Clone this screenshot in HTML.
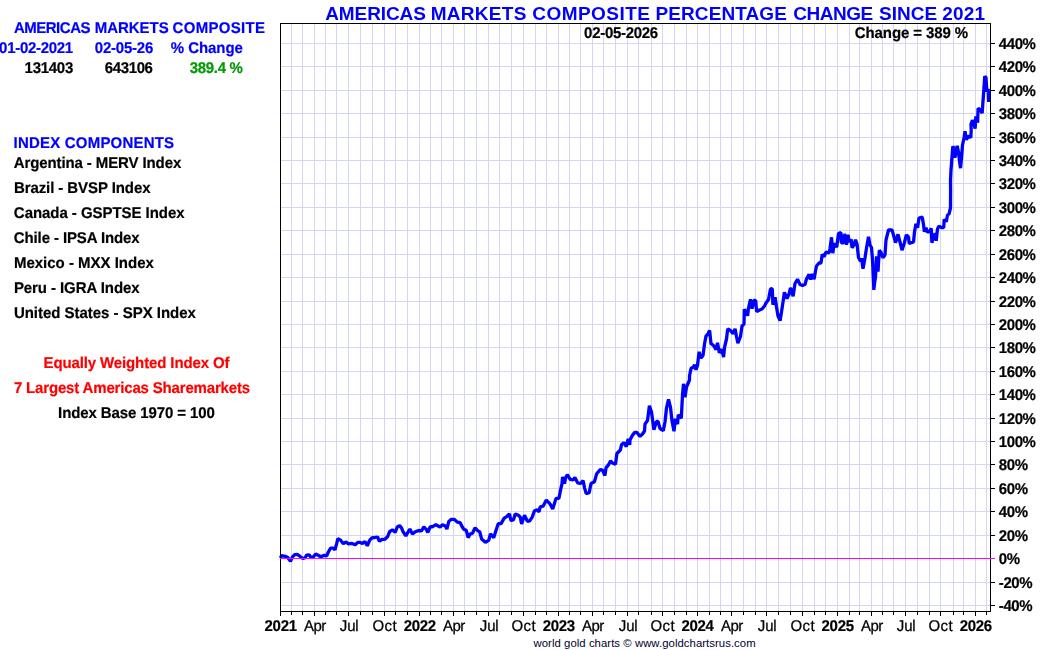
<!DOCTYPE html>
<html><head><meta charset="utf-8"><title>Americas Markets Composite</title>
<style>html,body{margin:0;padding:0;background:#fff;overflow:hidden}body{width:1050px;height:650px;position:relative}</style></head>
<body>
<svg width="1050" height="650" viewBox="0 0 1050 650" style="position:absolute;left:0;top:0;will-change:transform" font-family="Liberation Sans, sans-serif">
<rect x="0" y="0" width="1050" height="650" fill="#fff"/>
<g shape-rendering="crispEdges" stroke="#d5d5f5" stroke-width="1">
<line x1="280" x2="990" y1="605.5" y2="605.5"/>
<line x1="280" x2="990" y1="582.5" y2="582.5"/>
<line x1="280" x2="990" y1="558.5" y2="558.5"/>
<line x1="280" x2="990" y1="535.5" y2="535.5"/>
<line x1="280" x2="990" y1="511.5" y2="511.5"/>
<line x1="280" x2="990" y1="488.5" y2="488.5"/>
<line x1="280" x2="990" y1="464.5" y2="464.5"/>
<line x1="280" x2="990" y1="441.5" y2="441.5"/>
<line x1="280" x2="990" y1="418.5" y2="418.5"/>
<line x1="280" x2="990" y1="394.5" y2="394.5"/>
<line x1="280" x2="990" y1="371.5" y2="371.5"/>
<line x1="280" x2="990" y1="347.5" y2="347.5"/>
<line x1="280" x2="990" y1="324.5" y2="324.5"/>
<line x1="280" x2="990" y1="301.5" y2="301.5"/>
<line x1="280" x2="990" y1="277.5" y2="277.5"/>
<line x1="280" x2="990" y1="254.5" y2="254.5"/>
<line x1="280" x2="990" y1="230.5" y2="230.5"/>
<line x1="280" x2="990" y1="207.5" y2="207.5"/>
<line x1="280" x2="990" y1="183.5" y2="183.5"/>
<line x1="280" x2="990" y1="160.5" y2="160.5"/>
<line x1="280" x2="990" y1="137.5" y2="137.5"/>
<line x1="280" x2="990" y1="113.5" y2="113.5"/>
<line x1="280" x2="990" y1="90.5" y2="90.5"/>
<line x1="280" x2="990" y1="66.5" y2="66.5"/>
<line x1="280" x2="990" y1="43.5" y2="43.5"/>
<line y1="23" y2="611" x1="291.5" x2="291.5"/>
<line y1="23" y2="611" x1="302.5" x2="302.5"/>
<line y1="23" y2="611" x1="314.5" x2="314.5"/>
<line y1="23" y2="611" x1="325.5" x2="325.5"/>
<line y1="23" y2="611" x1="336.5" x2="336.5"/>
<line y1="23" y2="611" x1="348.5" x2="348.5"/>
<line y1="23" y2="611" x1="360.5" x2="360.5"/>
<line y1="23" y2="611" x1="372.5" x2="372.5"/>
<line y1="23" y2="611" x1="384.5" x2="384.5"/>
<line y1="23" y2="611" x1="395.5" x2="395.5"/>
<line y1="23" y2="611" x1="407.5" x2="407.5"/>
<line y1="23" y2="611" x1="419.5" x2="419.5"/>
<line y1="23" y2="611" x1="430.5" x2="430.5"/>
<line y1="23" y2="611" x1="441.5" x2="441.5"/>
<line y1="23" y2="611" x1="453.5" x2="453.5"/>
<line y1="23" y2="611" x1="464.5" x2="464.5"/>
<line y1="23" y2="611" x1="476.5" x2="476.5"/>
<line y1="23" y2="611" x1="488.5" x2="488.5"/>
<line y1="23" y2="611" x1="499.5" x2="499.5"/>
<line y1="23" y2="611" x1="511.5" x2="511.5"/>
<line y1="23" y2="611" x1="523.5" x2="523.5"/>
<line y1="23" y2="611" x1="535.5" x2="535.5"/>
<line y1="23" y2="611" x1="546.5" x2="546.5"/>
<line y1="23" y2="611" x1="558.5" x2="558.5"/>
<line y1="23" y2="611" x1="569.5" x2="569.5"/>
<line y1="23" y2="611" x1="580.5" x2="580.5"/>
<line y1="23" y2="611" x1="592.5" x2="592.5"/>
<line y1="23" y2="611" x1="603.5" x2="603.5"/>
<line y1="23" y2="611" x1="615.5" x2="615.5"/>
<line y1="23" y2="611" x1="627.5" x2="627.5"/>
<line y1="23" y2="611" x1="638.5" x2="638.5"/>
<line y1="23" y2="611" x1="651.5" x2="651.5"/>
<line y1="23" y2="611" x1="662.5" x2="662.5"/>
<line y1="23" y2="611" x1="674.5" x2="674.5"/>
<line y1="23" y2="611" x1="686.5" x2="686.5"/>
<line y1="23" y2="611" x1="697.5" x2="697.5"/>
<line y1="23" y2="611" x1="709.5" x2="709.5"/>
<line y1="23" y2="611" x1="720.5" x2="720.5"/>
<line y1="23" y2="611" x1="731.5" x2="731.5"/>
<line y1="23" y2="611" x1="743.5" x2="743.5"/>
<line y1="23" y2="611" x1="755.5" x2="755.5"/>
<line y1="23" y2="611" x1="766.5" x2="766.5"/>
<line y1="23" y2="611" x1="778.5" x2="778.5"/>
<line y1="23" y2="611" x1="790.5" x2="790.5"/>
<line y1="23" y2="611" x1="802.5" x2="802.5"/>
<line y1="23" y2="611" x1="814.5" x2="814.5"/>
<line y1="23" y2="611" x1="825.5" x2="825.5"/>
<line y1="23" y2="611" x1="837.5" x2="837.5"/>
<line y1="23" y2="611" x1="849.5" x2="849.5"/>
<line y1="23" y2="611" x1="859.5" x2="859.5"/>
<line y1="23" y2="611" x1="871.5" x2="871.5"/>
<line y1="23" y2="611" x1="882.5" x2="882.5"/>
<line y1="23" y2="611" x1="893.5" x2="893.5"/>
<line y1="23" y2="611" x1="905.5" x2="905.5"/>
<line y1="23" y2="611" x1="917.5" x2="917.5"/>
<line y1="23" y2="611" x1="929.5" x2="929.5"/>
<line y1="23" y2="611" x1="940.5" x2="940.5"/>
<line y1="23" y2="611" x1="953.5" x2="953.5"/>
<line y1="23" y2="611" x1="963.5" x2="963.5"/>
<line y1="23" y2="611" x1="975.5" x2="975.5"/>
<line y1="23" y2="611" x1="986.5" x2="986.5"/>
</g>
<polyline fill="none" stroke="#0000ff" stroke-width="3.3" stroke-linejoin="bevel" stroke-linecap="butt" points="280.4,557.9 281.6,555.6 285.2,556.3 287.5,557.2 290.5,561.3 292.3,557.2 294.7,554.7 297.6,554.4 299.9,556.3 302.8,558.5 305.2,557.7 306.6,555.1 309.0,554.8 311.4,557.7 313.3,556.8 315.7,554.1 318.1,555.3 320.9,556.8 324.3,555.3 326.7,555.8 328.1,552.5 330.5,548.2 333.3,548.2 335.0,549.8 336.7,543.4 337.9,538.6 340.5,540.1 343.3,543.7 345.7,542.0 348.6,543.9 352.0,543.4 355.3,544.8 357.7,542.4 360.1,542.4 362.4,543.4 364.9,541.6 367.3,545.8 369.1,541.5 370.0,539.8 371.9,537.9 374.8,537.5 377.6,537.0 379.4,541.3 381.9,539.4 384.8,539.4 387.7,536.5 389.6,531.7 392.4,529.8 395.2,532.4 397.2,527.0 399.6,525.7 401.5,527.9 402.9,531.3 405.8,535.8 407.7,532.7 409.9,529.1 412.4,534.1 415.3,531.7 418.7,530.5 421.5,530.8 423.8,526.9 426.3,529.4 427.8,532.4 430.1,527.0 433.0,526.5 435.8,524.6 438.2,526.0 440.1,527.0 442.5,524.8 445.4,526.0 446.9,529.1 448.7,521.7 451.1,519.3 454.4,519.3 457.3,522.2 460.2,522.7 462.0,526.5 463.9,529.4 466.3,530.3 468.1,537.7 470.1,534.1 472.5,533.2 475.1,527.7 477.3,530.3 479.7,531.8 481.6,538.9 485.4,542.3 488.7,540.3 490.4,533.9 493.7,537.7 495.9,530.8 498.3,523.6 501.1,523.6 504.0,518.4 506.8,516.5 509.4,513.9 511.0,520.6 513.5,519.8 515.2,514.0 518.3,515.3 520.2,517.0 521.6,523.9 524.5,515.3 527.4,521.3 529.7,520.8 532.1,517.4 534.5,510.8 537.4,509.8 539.0,511.9 540.2,506.8 543.1,506.2 546.3,500.1 549.8,503.6 552.7,509.1 556.0,498.4 558.9,498.4 560.8,488.8 561.7,485.0 561.9,484.6 562.6,477.0 564.5,483.6 565.6,477.7 567.3,474.7 570.2,479.4 573.1,480.0 574.9,477.6 577.7,482.9 580.6,483.5 583.1,480.5 584.6,488.1 586.2,493.6 589.2,492.7 591.0,483.5 594.4,481.7 596.7,473.7 600.2,469.6 602.5,470.2 604.9,475.5 606.0,467.9 608.8,464.4 610.5,460.9 612.9,463.3 615.5,464.3 616.9,453.5 620.4,450.0 621.5,444.8 623.9,442.6 626.3,446.6 628.2,438.9 629.7,444.9 630.0,440.0 632.0,436.0 634.5,432.5 637.0,432.5 640.0,436.4 642.5,434.0 644.5,431.0 645.0,424.0 647.5,420.5 649.4,405.8 651.5,412.0 653.9,429.7 656.5,421.5 658.0,421.5 660.0,428.5 663.3,430.6 665.0,422.0 666.5,408.0 668.5,399.3 670.5,407.5 672.0,421.0 674.0,431.2 675.4,418.8 677.6,424.2 678.2,414.9 681.3,418.1 682.5,395.0 683.5,383.8 685.0,397.2 686.5,387.0 689.5,380.0 689.5,376.0 691.0,368.5 693.5,367.0 694.6,364.8 696.0,369.7 697.5,365.5 699.1,351.8 700.8,358.2 703.0,355.5 704.5,344.0 706.0,336.0 708.0,334.0 709.6,330.3 711.0,343.5 713.5,345.5 716.1,349.7 717.5,342.8 719.3,352.7 721.7,349.3 723.6,357.2 724.5,347.5 726.5,339.0 727.7,328.9 730.5,330.5 733.1,333.7 735.1,328.8 736.5,336.5 737.9,343.2 740.5,336.5 742.0,326.0 744.0,324.0 744.3,309.3 746.0,312.0 747.6,315.7 748.5,308.0 750.5,299.3 752.0,308.7 754.0,300.5 755.7,300.3 756.6,311.6 759.5,310.0 762.0,309.0 764.5,306.0 766.0,303.0 768.5,299.5 770.5,289.0 772.3,288.7 772.9,304.7 775.1,297.3 776.5,307.0 778.0,316.0 780.1,320.7 781.5,312.0 783.0,302.0 784.4,292.3 787.0,298.7 789.0,294.0 790.5,287.8 793.1,296.2 795.0,283.5 797.5,279.3 800.0,284.5 802.5,285.5 805.0,284.5 806.5,279.0 809.1,274.3 810.5,279.7 812.0,273.8 814.1,279.2 815.5,271.0 816.5,266.0 819.0,263.0 821.0,263.0 822.2,254.4 824.2,256.6 826.0,252.0 829.2,252.8 830.0,248.5 831.5,237.3 832.8,253.2 834.3,243.3 836.7,247.2 838.5,233.5 840.9,232.5 841.3,242.8 843.7,242.8 844.5,233.8 846.5,244.7 848.0,234.8 849.3,242.2 851.2,239.3 852.0,247.7 854.0,245.0 855.5,239.8 857.0,244.0 858.5,257.5 860.5,261.2 861.6,258.3 863.0,268.7 865.0,258.0 866.5,248.0 868.5,236.8 870.0,245.0 871.5,247.5 872.5,260.0 873.5,281.7 873.5,279.3 873.8,289.9 874.6,283.1 875.5,277.0 876.5,256.3 878.0,271.7 879.3,250.3 881.0,252.5 882.9,257.7 885.0,255.0 886.0,240.0 888.5,230.0 892.0,230.0 893.5,235.0 895.5,242.7 898.0,234.3 899.5,240.0 902.0,250.2 904.5,242.5 906.3,234.8 908.5,237.0 909.2,243.5 913.5,242.0 914.5,232.0 915.9,223.8 917.6,227.7 919.0,218.0 922.2,217.1 923.5,224.5 924.4,231.7 926.0,227.8 927.4,232.3 929.5,231.5 931.2,228.3 931.9,242.7 933.5,237.0 935.1,233.3 936.2,240.7 937.5,229.0 938.9,226.2 941.5,227.5 943.7,227.7 944.2,219.4 946.3,221.7 947.5,215.0 949.0,214.0 950.5,208.0 950.6,190.0 950.5,180.0 951.0,170.0 951.8,160.0 952.8,146.3 954.5,149.0 954.9,157.7 956.5,150.0 957.2,145.8 958.5,152.0 959.5,161.0 960.5,168.2 961.5,158.0 962.5,145.0 964.0,138.0 965.0,131.3 966.4,139.7 968.4,135.7 970.8,137.6 971.2,130.0 971.0,124.0 972.4,120.3 973.5,122.0 975.1,128.7 975.9,116.3 977.6,122.7 978.1,108.4 980.0,109.5 982.2,113.2 983.0,101.0 984.0,88.0 984.7,76.4 986.0,77.5 986.8,91.7 988.2,88.8 988.7,102.0"/>
<g shape-rendering="crispEdges" stroke="#000" stroke-width="1" fill="none">
<rect x="280.5" y="23.5" width="710" height="588"/>
<line x1="991" x2="995" y1="605.5" y2="605.5"/>
<line x1="991" x2="995" y1="582.5" y2="582.5"/>
<line x1="991" x2="995" y1="535.5" y2="535.5"/>
<line x1="991" x2="995" y1="511.5" y2="511.5"/>
<line x1="991" x2="995" y1="488.5" y2="488.5"/>
<line x1="991" x2="995" y1="464.5" y2="464.5"/>
<line x1="991" x2="995" y1="441.5" y2="441.5"/>
<line x1="991" x2="995" y1="418.5" y2="418.5"/>
<line x1="991" x2="995" y1="394.5" y2="394.5"/>
<line x1="991" x2="995" y1="371.5" y2="371.5"/>
<line x1="991" x2="995" y1="347.5" y2="347.5"/>
<line x1="991" x2="995" y1="324.5" y2="324.5"/>
<line x1="991" x2="995" y1="301.5" y2="301.5"/>
<line x1="991" x2="995" y1="277.5" y2="277.5"/>
<line x1="991" x2="995" y1="254.5" y2="254.5"/>
<line x1="991" x2="995" y1="230.5" y2="230.5"/>
<line x1="991" x2="995" y1="207.5" y2="207.5"/>
<line x1="991" x2="995" y1="183.5" y2="183.5"/>
<line x1="991" x2="995" y1="160.5" y2="160.5"/>
<line x1="991" x2="995" y1="137.5" y2="137.5"/>
<line x1="991" x2="995" y1="113.5" y2="113.5"/>
<line x1="991" x2="995" y1="90.5" y2="90.5"/>
<line x1="991" x2="995" y1="66.5" y2="66.5"/>
<line x1="991" x2="995" y1="43.5" y2="43.5"/>
<line y1="612" y2="616" x1="280.5" x2="280.5"/>
<line y1="612" y2="615" x1="291.5" x2="291.5"/>
<line y1="612" y2="615" x1="302.5" x2="302.5"/>
<line y1="612" y2="616" x1="314.5" x2="314.5"/>
<line y1="612" y2="615" x1="325.5" x2="325.5"/>
<line y1="612" y2="615" x1="336.5" x2="336.5"/>
<line y1="612" y2="616" x1="348.5" x2="348.5"/>
<line y1="612" y2="615" x1="360.5" x2="360.5"/>
<line y1="612" y2="615" x1="372.5" x2="372.5"/>
<line y1="612" y2="616" x1="384.5" x2="384.5"/>
<line y1="612" y2="615" x1="395.5" x2="395.5"/>
<line y1="612" y2="615" x1="407.5" x2="407.5"/>
<line y1="612" y2="616" x1="419.5" x2="419.5"/>
<line y1="612" y2="615" x1="430.5" x2="430.5"/>
<line y1="612" y2="615" x1="441.5" x2="441.5"/>
<line y1="612" y2="616" x1="453.5" x2="453.5"/>
<line y1="612" y2="615" x1="464.5" x2="464.5"/>
<line y1="612" y2="615" x1="476.5" x2="476.5"/>
<line y1="612" y2="616" x1="488.5" x2="488.5"/>
<line y1="612" y2="615" x1="499.5" x2="499.5"/>
<line y1="612" y2="615" x1="511.5" x2="511.5"/>
<line y1="612" y2="616" x1="523.5" x2="523.5"/>
<line y1="612" y2="615" x1="535.5" x2="535.5"/>
<line y1="612" y2="615" x1="546.5" x2="546.5"/>
<line y1="612" y2="616" x1="558.5" x2="558.5"/>
<line y1="612" y2="615" x1="569.5" x2="569.5"/>
<line y1="612" y2="615" x1="580.5" x2="580.5"/>
<line y1="612" y2="616" x1="592.5" x2="592.5"/>
<line y1="612" y2="615" x1="603.5" x2="603.5"/>
<line y1="612" y2="615" x1="615.5" x2="615.5"/>
<line y1="612" y2="616" x1="627.5" x2="627.5"/>
<line y1="612" y2="615" x1="638.5" x2="638.5"/>
<line y1="612" y2="615" x1="651.5" x2="651.5"/>
<line y1="612" y2="616" x1="662.5" x2="662.5"/>
<line y1="612" y2="615" x1="674.5" x2="674.5"/>
<line y1="612" y2="615" x1="686.5" x2="686.5"/>
<line y1="612" y2="616" x1="697.5" x2="697.5"/>
<line y1="612" y2="615" x1="709.5" x2="709.5"/>
<line y1="612" y2="615" x1="720.5" x2="720.5"/>
<line y1="612" y2="616" x1="731.5" x2="731.5"/>
<line y1="612" y2="615" x1="743.5" x2="743.5"/>
<line y1="612" y2="615" x1="755.5" x2="755.5"/>
<line y1="612" y2="616" x1="766.5" x2="766.5"/>
<line y1="612" y2="615" x1="778.5" x2="778.5"/>
<line y1="612" y2="615" x1="790.5" x2="790.5"/>
<line y1="612" y2="616" x1="802.5" x2="802.5"/>
<line y1="612" y2="615" x1="814.5" x2="814.5"/>
<line y1="612" y2="615" x1="825.5" x2="825.5"/>
<line y1="612" y2="616" x1="837.5" x2="837.5"/>
<line y1="612" y2="615" x1="849.5" x2="849.5"/>
<line y1="612" y2="615" x1="859.5" x2="859.5"/>
<line y1="612" y2="616" x1="871.5" x2="871.5"/>
<line y1="612" y2="615" x1="882.5" x2="882.5"/>
<line y1="612" y2="615" x1="893.5" x2="893.5"/>
<line y1="612" y2="616" x1="905.5" x2="905.5"/>
<line y1="612" y2="615" x1="917.5" x2="917.5"/>
<line y1="612" y2="615" x1="929.5" x2="929.5"/>
<line y1="612" y2="616" x1="940.5" x2="940.5"/>
<line y1="612" y2="615" x1="953.5" x2="953.5"/>
<line y1="612" y2="615" x1="963.5" x2="963.5"/>
<line y1="612" y2="616" x1="975.5" x2="975.5"/>
<line y1="612" y2="615" x1="986.5" x2="986.5"/>
</g>
<g shape-rendering="crispEdges"><line x1="280" x2="995" y1="558.5" y2="558.5" stroke="#ff00ff" stroke-width="1"/></g>
<text stroke="#0000ff" stroke-width="0.2" x="-0.90" y="53.0" font-size="15" font-weight="bold" fill="#0000ff" letter-spacing="-0.294" text-rendering="geometricPrecision" transform="matrix(1 0 0 1.0388 0 -2.054)">01-02-2021</text>
<text stroke="#0000ff" stroke-width="0.2" x="94.80" y="53.0" font-size="15" font-weight="bold" fill="#0000ff" letter-spacing="-0.229" text-rendering="geometricPrecision" transform="matrix(1 0 0 1.0388 0 -2.054)">02-05-26</text>
<text stroke="#0000ff" stroke-width="0.2" x="170.80" y="53.0" font-size="15" font-weight="bold" fill="#0000ff" letter-spacing="-0.057" text-rendering="geometricPrecision" transform="matrix(1 0 0 1.0388 0 -2.054)">% Change</text>
<text stroke="#000" stroke-width="0.2" x="24.60" y="73.0" font-size="15" font-weight="bold" fill="#000" letter-spacing="-0.280" text-rendering="geometricPrecision" transform="matrix(1 0 0 1.0388 0 -2.829)">131403</text>
<text stroke="#000" stroke-width="0.2" x="104.80" y="73.0" font-size="15" font-weight="bold" fill="#000" letter-spacing="-0.380" text-rendering="geometricPrecision" transform="matrix(1 0 0 1.0388 0 -2.829)">643106</text>
<text stroke="#009900" stroke-width="0.2" x="189.80" y="73.0" font-size="15" font-weight="bold" fill="#009900" letter-spacing="-0.317" text-rendering="geometricPrecision" transform="matrix(1 0 0 1.0388 0 -2.829)">389.4 %</text>
<text stroke="#0000ff" stroke-width="0.2" x="13.60" y="148.0" font-size="15" font-weight="bold" fill="#0000ff" letter-spacing="0.200" text-rendering="geometricPrecision" transform="matrix(1 0 0 1.0388 0 -5.736)">INDEX COMPONENTS</text>
<text stroke="#000" stroke-width="0.2" x="13.80" y="168.0" font-size="15" font-weight="bold" fill="#000" letter-spacing="-0.110" text-rendering="geometricPrecision" transform="matrix(1 0 0 1.0388 0 -6.512)">Argentina - MERV Index</text>
<text stroke="#000" stroke-width="0.2" x="13.90" y="193.0" font-size="15" font-weight="bold" fill="#000" letter-spacing="-0.083" text-rendering="geometricPrecision" transform="matrix(1 0 0 1.0388 0 -7.481)">Brazil - BVSP Index</text>
<text stroke="#000" stroke-width="0.2" x="13.85" y="218.0" font-size="15" font-weight="bold" fill="#000" letter-spacing="-0.047" text-rendering="geometricPrecision" transform="matrix(1 0 0 1.0388 0 -8.450)">Canada - GSPTSE Index</text>
<text stroke="#000" stroke-width="0.2" x="13.75" y="243.0" font-size="15" font-weight="bold" fill="#000" letter-spacing="-0.109" text-rendering="geometricPrecision" transform="matrix(1 0 0 1.0388 0 -9.419)">Chile - IPSA Index</text>
<text stroke="#000" stroke-width="0.2" x="13.90" y="268.0" font-size="15" font-weight="bold" fill="#000" letter-spacing="-0.003" text-rendering="geometricPrecision" transform="matrix(1 0 0 1.0388 0 -10.388)">Mexico - MXX Index</text>
<text stroke="#000" stroke-width="0.2" x="13.90" y="293.0" font-size="15" font-weight="bold" fill="#000" letter-spacing="-0.078" text-rendering="geometricPrecision" transform="matrix(1 0 0 1.0388 0 -11.357)">Peru - IGRA Index</text>
<text stroke="#000" stroke-width="0.2" x="13.90" y="318.0" font-size="15" font-weight="bold" fill="#000" letter-spacing="-0.023" text-rendering="geometricPrecision" transform="matrix(1 0 0 1.0388 0 -12.326)">United States - SPX Index</text>
<text stroke="#ff0000" stroke-width="0.2" x="43.50" y="368.0" font-size="15" font-weight="bold" fill="#ff0000" letter-spacing="-0.121" text-rendering="geometricPrecision" transform="matrix(1 0 0 1.0388 0 -14.264)">Equally Weighted Index Of</text>
<text stroke="#ff0000" stroke-width="0.2" x="13.95" y="393.0" font-size="15" font-weight="bold" fill="#ff0000" letter-spacing="-0.168" text-rendering="geometricPrecision" transform="matrix(1 0 0 1.0388 0 -15.233)">7 Largest Americas Sharemarkets</text>
<text stroke="#000" stroke-width="0.2" x="58.10" y="418.0" font-size="15" font-weight="bold" fill="#000" letter-spacing="-0.108" text-rendering="geometricPrecision" transform="matrix(1 0 0 1.0388 0 -16.202)">Index Base 1970 = 100</text>
<text stroke="#000" stroke-width="0.2" x="584.10" y="38.0" font-size="15" font-weight="bold" fill="#000" letter-spacing="-0.294" text-rendering="geometricPrecision" transform="matrix(1 0 0 1.0388 0 -1.473)">02-05-2026</text>
<text stroke="#000" stroke-width="0.2" x="854.85" y="38.0" font-size="15" font-weight="bold" fill="#000" letter-spacing="-0.108" text-rendering="geometricPrecision" transform="matrix(1 0 0 1.0388 0 -1.473)">Change = 389 %</text>
<text stroke="#0000ff" stroke-width="0.2" y="33.0" font-size="15" font-weight="bold" fill="#0000ff" text-rendering="geometricPrecision" transform="matrix(1 0 0 1.0388 0 -1.279)"><tspan x="13.90" letter-spacing="-0.486">AMERICAS</tspan> <tspan x="94.70" letter-spacing="-0.033">MARKETS</tspan> <tspan x="172.55" letter-spacing="0.294">COMPOSITE</tspan></text>
<text y="20.0" font-size="19" font-weight="bold" fill="#0000ff"><tspan x="325.20" letter-spacing="-0.086">AMERICAS</tspan> <tspan x="430.75" letter-spacing="0.283">MARKETS</tspan> <tspan x="532.25" letter-spacing="0.450">COMPOSITE</tspan> <tspan x="655.45" letter-spacing="0.100">PERCENTAGE</tspan> <tspan x="793.15" letter-spacing="-0.470">CHANGE</tspan> <tspan x="879.05" letter-spacing="0.000">SINCE</tspan> <tspan x="942.35" letter-spacing="0.167">2021</tspan></text>
<text stroke="#000" stroke-width="0.2" x="998.85" y="611" font-size="15" font-weight="bold" fill="#000" letter-spacing="-0.417" text-rendering="geometricPrecision" transform="matrix(1 0 0 1.0388 0 -23.682)">-40%</text>
<text stroke="#000" stroke-width="0.2" x="998.85" y="588" font-size="15" font-weight="bold" fill="#000" letter-spacing="-0.417" text-rendering="geometricPrecision" transform="matrix(1 0 0 1.0388 0 -22.791)">-20%</text>
<text stroke="#000" stroke-width="0.2" x="998.85" y="564" font-size="15" font-weight="bold" fill="#000" letter-spacing="-0.417" text-rendering="geometricPrecision" transform="matrix(1 0 0 1.0388 0 -21.860)">0%</text>
<text stroke="#000" stroke-width="0.2" x="998.85" y="541" font-size="15" font-weight="bold" fill="#000" letter-spacing="-0.417" text-rendering="geometricPrecision" transform="matrix(1 0 0 1.0388 0 -20.969)">20%</text>
<text stroke="#000" stroke-width="0.2" x="998.85" y="517" font-size="15" font-weight="bold" fill="#000" letter-spacing="-0.417" text-rendering="geometricPrecision" transform="matrix(1 0 0 1.0388 0 -20.039)">40%</text>
<text stroke="#000" stroke-width="0.2" x="998.85" y="494" font-size="15" font-weight="bold" fill="#000" letter-spacing="-0.417" text-rendering="geometricPrecision" transform="matrix(1 0 0 1.0388 0 -19.147)">60%</text>
<text stroke="#000" stroke-width="0.2" x="998.85" y="470" font-size="15" font-weight="bold" fill="#000" letter-spacing="-0.417" text-rendering="geometricPrecision" transform="matrix(1 0 0 1.0388 0 -18.217)">80%</text>
<text stroke="#000" stroke-width="0.2" x="998.85" y="447" font-size="15" font-weight="bold" fill="#000" letter-spacing="-0.417" text-rendering="geometricPrecision" transform="matrix(1 0 0 1.0388 0 -17.326)">100%</text>
<text stroke="#000" stroke-width="0.2" x="998.85" y="424" font-size="15" font-weight="bold" fill="#000" letter-spacing="-0.417" text-rendering="geometricPrecision" transform="matrix(1 0 0 1.0388 0 -16.434)">120%</text>
<text stroke="#000" stroke-width="0.2" x="998.85" y="400" font-size="15" font-weight="bold" fill="#000" letter-spacing="-0.417" text-rendering="geometricPrecision" transform="matrix(1 0 0 1.0388 0 -15.504)">140%</text>
<text stroke="#000" stroke-width="0.2" x="998.85" y="377" font-size="15" font-weight="bold" fill="#000" letter-spacing="-0.417" text-rendering="geometricPrecision" transform="matrix(1 0 0 1.0388 0 -14.612)">160%</text>
<text stroke="#000" stroke-width="0.2" x="998.85" y="353" font-size="15" font-weight="bold" fill="#000" letter-spacing="-0.417" text-rendering="geometricPrecision" transform="matrix(1 0 0 1.0388 0 -13.682)">180%</text>
<text stroke="#000" stroke-width="0.2" x="998.85" y="330" font-size="15" font-weight="bold" fill="#000" letter-spacing="-0.417" text-rendering="geometricPrecision" transform="matrix(1 0 0 1.0388 0 -12.791)">200%</text>
<text stroke="#000" stroke-width="0.2" x="998.85" y="307" font-size="15" font-weight="bold" fill="#000" letter-spacing="-0.417" text-rendering="geometricPrecision" transform="matrix(1 0 0 1.0388 0 -11.899)">220%</text>
<text stroke="#000" stroke-width="0.2" x="998.85" y="283" font-size="15" font-weight="bold" fill="#000" letter-spacing="-0.417" text-rendering="geometricPrecision" transform="matrix(1 0 0 1.0388 0 -10.969)">240%</text>
<text stroke="#000" stroke-width="0.2" x="998.85" y="260" font-size="15" font-weight="bold" fill="#000" letter-spacing="-0.417" text-rendering="geometricPrecision" transform="matrix(1 0 0 1.0388 0 -10.078)">260%</text>
<text stroke="#000" stroke-width="0.2" x="998.85" y="236" font-size="15" font-weight="bold" fill="#000" letter-spacing="-0.417" text-rendering="geometricPrecision" transform="matrix(1 0 0 1.0388 0 -9.147)">280%</text>
<text stroke="#000" stroke-width="0.2" x="998.85" y="213" font-size="15" font-weight="bold" fill="#000" letter-spacing="-0.417" text-rendering="geometricPrecision" transform="matrix(1 0 0 1.0388 0 -8.256)">300%</text>
<text stroke="#000" stroke-width="0.2" x="998.85" y="189" font-size="15" font-weight="bold" fill="#000" letter-spacing="-0.417" text-rendering="geometricPrecision" transform="matrix(1 0 0 1.0388 0 -7.326)">320%</text>
<text stroke="#000" stroke-width="0.2" x="998.85" y="166" font-size="15" font-weight="bold" fill="#000" letter-spacing="-0.417" text-rendering="geometricPrecision" transform="matrix(1 0 0 1.0388 0 -6.434)">340%</text>
<text stroke="#000" stroke-width="0.2" x="998.85" y="143" font-size="15" font-weight="bold" fill="#000" letter-spacing="-0.417" text-rendering="geometricPrecision" transform="matrix(1 0 0 1.0388 0 -5.543)">360%</text>
<text stroke="#000" stroke-width="0.2" x="998.85" y="119" font-size="15" font-weight="bold" fill="#000" letter-spacing="-0.417" text-rendering="geometricPrecision" transform="matrix(1 0 0 1.0388 0 -4.612)">380%</text>
<text stroke="#000" stroke-width="0.2" x="998.85" y="96" font-size="15" font-weight="bold" fill="#000" letter-spacing="-0.417" text-rendering="geometricPrecision" transform="matrix(1 0 0 1.0388 0 -3.721)">400%</text>
<text stroke="#000" stroke-width="0.2" x="998.85" y="72" font-size="15" font-weight="bold" fill="#000" letter-spacing="-0.417" text-rendering="geometricPrecision" transform="matrix(1 0 0 1.0388 0 -2.791)">420%</text>
<text stroke="#000" stroke-width="0.2" x="998.85" y="49" font-size="15" font-weight="bold" fill="#000" letter-spacing="-0.417" text-rendering="geometricPrecision" transform="matrix(1 0 0 1.0388 0 -1.899)">440%</text>
<text stroke="#000" stroke-width="0.2" x="264.57" y="631" font-size="15" font-weight="bold" fill="#000" letter-spacing="-0.283" text-rendering="geometricPrecision" transform="matrix(1 0 0 1.0388 0 -24.457)">2021</text>
<text x="303.90" y="631" font-size="15" fill="#000" stroke="#000" stroke-width="0.25" letter-spacing="-0.500" text-rendering="geometricPrecision" transform="matrix(1 0 0 1.0388 0 -24.457)">Apr</text>
<text x="339.80" y="631" font-size="15" fill="#000" stroke="#000" stroke-width="0.25" letter-spacing="-0.150" text-rendering="geometricPrecision" transform="matrix(1 0 0 1.0388 0 -24.457)">Jul</text>
<text x="372.55" y="631" font-size="15" fill="#000" stroke="#000" stroke-width="0.25" letter-spacing="0.350" text-rendering="geometricPrecision" transform="matrix(1 0 0 1.0388 0 -24.457)">Oct</text>
<text stroke="#000" stroke-width="0.2" x="403.70" y="631" font-size="15" font-weight="bold" fill="#000" letter-spacing="-0.283" text-rendering="geometricPrecision" transform="matrix(1 0 0 1.0388 0 -24.457)">2022</text>
<text x="442.90" y="631" font-size="15" fill="#000" stroke="#000" stroke-width="0.25" letter-spacing="-0.500" text-rendering="geometricPrecision" transform="matrix(1 0 0 1.0388 0 -24.457)">Apr</text>
<text x="479.80" y="631" font-size="15" fill="#000" stroke="#000" stroke-width="0.25" letter-spacing="-0.150" text-rendering="geometricPrecision" transform="matrix(1 0 0 1.0388 0 -24.457)">Jul</text>
<text x="511.55" y="631" font-size="15" fill="#000" stroke="#000" stroke-width="0.25" letter-spacing="0.350" text-rendering="geometricPrecision" transform="matrix(1 0 0 1.0388 0 -24.457)">Oct</text>
<text stroke="#000" stroke-width="0.2" x="542.70" y="631" font-size="15" font-weight="bold" fill="#000" letter-spacing="-0.283" text-rendering="geometricPrecision" transform="matrix(1 0 0 1.0388 0 -24.457)">2023</text>
<text x="581.90" y="631" font-size="15" fill="#000" stroke="#000" stroke-width="0.25" letter-spacing="-0.500" text-rendering="geometricPrecision" transform="matrix(1 0 0 1.0388 0 -24.457)">Apr</text>
<text x="618.80" y="631" font-size="15" fill="#000" stroke="#000" stroke-width="0.25" letter-spacing="-0.150" text-rendering="geometricPrecision" transform="matrix(1 0 0 1.0388 0 -24.457)">Jul</text>
<text x="650.55" y="631" font-size="15" fill="#000" stroke="#000" stroke-width="0.25" letter-spacing="0.350" text-rendering="geometricPrecision" transform="matrix(1 0 0 1.0388 0 -24.457)">Oct</text>
<text stroke="#000" stroke-width="0.2" x="681.45" y="631" font-size="15" font-weight="bold" fill="#000" letter-spacing="-0.283" text-rendering="geometricPrecision" transform="matrix(1 0 0 1.0388 0 -24.457)">2024</text>
<text x="720.90" y="631" font-size="15" fill="#000" stroke="#000" stroke-width="0.25" letter-spacing="-0.500" text-rendering="geometricPrecision" transform="matrix(1 0 0 1.0388 0 -24.457)">Apr</text>
<text x="757.80" y="631" font-size="15" fill="#000" stroke="#000" stroke-width="0.25" letter-spacing="-0.150" text-rendering="geometricPrecision" transform="matrix(1 0 0 1.0388 0 -24.457)">Jul</text>
<text x="790.55" y="631" font-size="15" fill="#000" stroke="#000" stroke-width="0.25" letter-spacing="0.350" text-rendering="geometricPrecision" transform="matrix(1 0 0 1.0388 0 -24.457)">Oct</text>
<text stroke="#000" stroke-width="0.2" x="821.57" y="631" font-size="15" font-weight="bold" fill="#000" letter-spacing="-0.283" text-rendering="geometricPrecision" transform="matrix(1 0 0 1.0388 0 -24.457)">2025</text>
<text x="860.90" y="631" font-size="15" fill="#000" stroke="#000" stroke-width="0.25" letter-spacing="-0.500" text-rendering="geometricPrecision" transform="matrix(1 0 0 1.0388 0 -24.457)">Apr</text>
<text x="896.80" y="631" font-size="15" fill="#000" stroke="#000" stroke-width="0.25" letter-spacing="-0.150" text-rendering="geometricPrecision" transform="matrix(1 0 0 1.0388 0 -24.457)">Jul</text>
<text x="928.55" y="631" font-size="15" fill="#000" stroke="#000" stroke-width="0.25" letter-spacing="0.350" text-rendering="geometricPrecision" transform="matrix(1 0 0 1.0388 0 -24.457)">Oct</text>
<text stroke="#000" stroke-width="0.2" x="959.70" y="631" font-size="15" font-weight="bold" fill="#000" letter-spacing="-0.283" text-rendering="geometricPrecision" transform="matrix(1 0 0 1.0388 0 -24.457)">2026</text>
</svg>
<svg width="1050" height="14" viewBox="0 636 1050 14" style="position:absolute;left:0;top:636px;background:#fff" font-family="Liberation Sans, sans-serif">
<rect x="0" y="636" width="1050" height="14" fill="#fff"/>
<text x="533.50" y="647.0" font-size="11.33" font-weight="normal" fill="#000030" letter-spacing="0.056">world gold charts © www.goldchartsrus.com</text>
</svg>
</body></html>
